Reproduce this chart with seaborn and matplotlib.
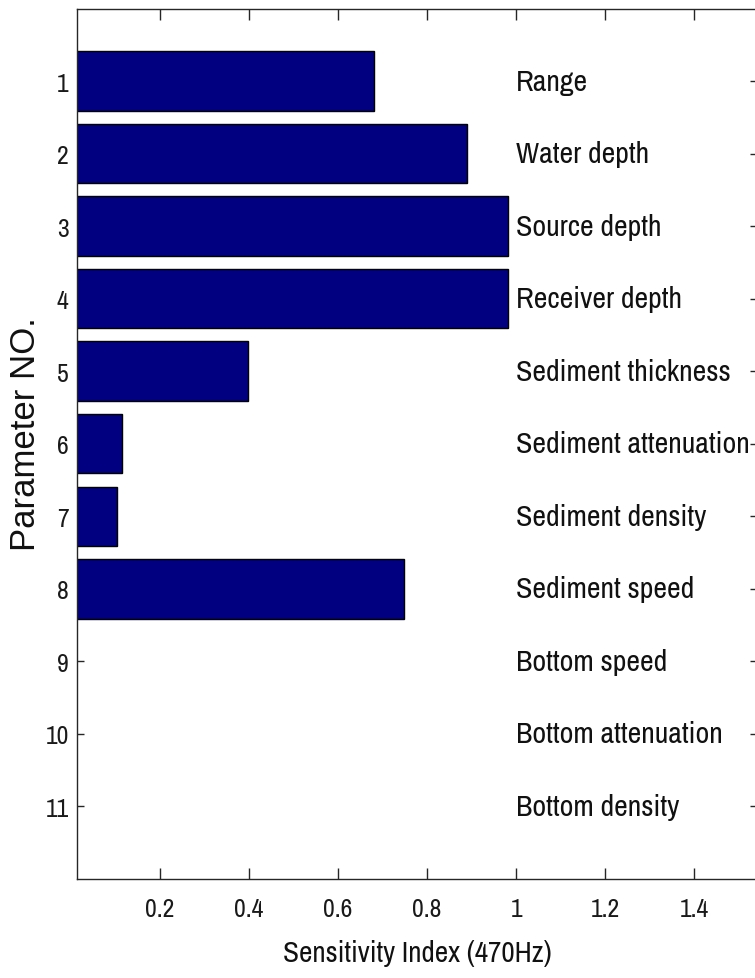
import matplotlib
matplotlib.use("Agg")
import matplotlib.pyplot as plt
import seaborn as sns
import pandas as pd

param_no = [1, 2, 3, 4, 5, 6, 7, 8, 9, 10, 11]
param_names = ["Range", "Water depth", "Source depth", "Receiver depth",
               "Sediment thickness", "Sediment attenuation", "Sediment density",
               "Sediment speed", "Bottom speed", "Bottom attenuation", "Bottom density"]
sensitivity = [0.681, 0.889, 0.982, 0.982, 0.398, 0.114, 0.103, 0.748, 0.0, 0.0, 0.0]
xtick_vals = [0.2, 0.4, 0.6, 0.8, 1.0, 1.2, 1.4]
xtick_labels = ["0.2", "0.4", "0.6", "0.8", "1", "1.2", "1.4"]

sns.set_style("white")
cond = ["Archivo Narrow", "Roboto Condensed", "DejaVu Sans"]
plt.rcParams["font.family"] = cond

df = pd.DataFrame({"param": param_no, "value": sensitivity})

fig = plt.figure(figsize=(7.55, 9.79), dpi=100)
ax = fig.add_axes([77 / 755, 1 - 880 / 979, 680 / 755, (880 - 9.5) / 979])
sns.barplot(data=df, x="value", y="param", orient="h", native_scale=True,
            color="#000080", saturation=1, width=0.82, edgecolor="black",
            linewidth=1.0, ax=ax)
ax.set_xlim(0.0136, 1.541)
ax.set_ylim(12, 0)
ax.set_yticks(param_no)
ax.set_yticklabels([str(p) for p in param_no], fontsize=18.5, color="#1a1a1a")
ax.set_xticks(xtick_vals)
ax.set_xticklabels(xtick_labels, fontsize=18.5, color="#1a1a1a")
for y, name in zip(param_no, param_names):
    ax.text(1.0, y, name, va="center", ha="left", fontsize=21.5, color="#111111")
ax.set_xlabel("Sensitivity Index (470Hz)", fontsize=21, labelpad=14, color="#111111")
ax.set_ylabel("Parameter NO.", fontsize=25, color="#111111",
              family=["Liberation Sans", "DejaVu Sans"])
ax.yaxis.set_label_coords(-0.052, 0.512)
ax.tick_params(axis="x", direction="in", length=8, top=True, bottom=True, pad=13, width=1, color="#262626")
ax.tick_params(axis="y", direction="in", length=5, left=True, right=True, pad=6, width=1, color="#262626")
for s in ax.spines.values():
    s.set_color("#262626")
    s.set_linewidth(1)
fig.savefig("out.png", dpi=100)
